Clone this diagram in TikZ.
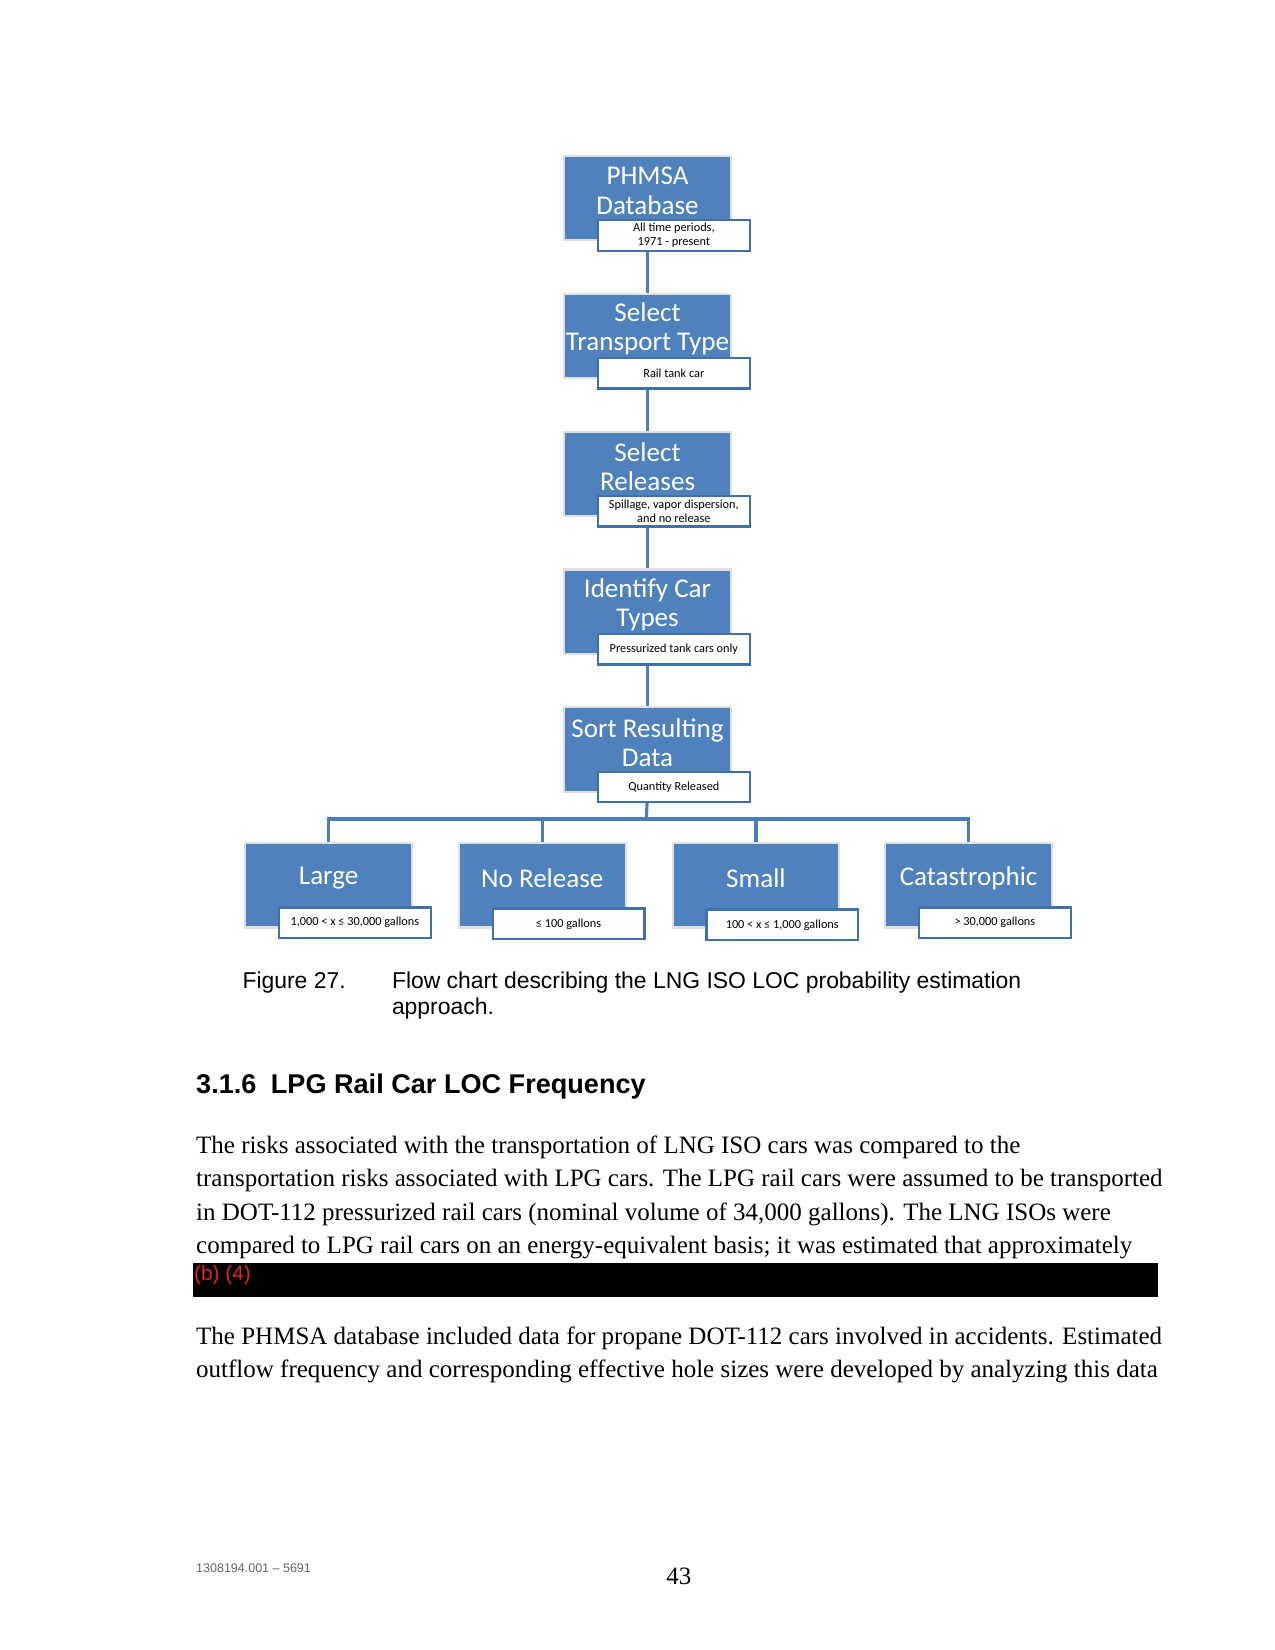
\documentclass[tikz,border=0pt]{standalone}
\usepackage{fontspec}
\setmainfont{Liberation Serif}
\newfontfamily\calibri{Carlito}
\newfontfamily\arial{Liberation Sans}
\usetikzlibrary{backgrounds}
\definecolor{boxblue}{RGB}{79,129,189}
\definecolor{lineblue}{RGB}{74,126,187}
\definecolor{lblborder}{RGB}{65,113,170}
\definecolor{redact}{RGB}{220,40,40}
\begin{document}
\begin{tikzpicture}[x=0.50526pt,y=-0.50526pt,
  bluebox/.style={rectangle, fill=boxblue, draw=black!12, line width=1pt,
    minimum width=80pt, minimum height=40.5pt, inner sep=0pt, anchor=north west},
  boxtext/.style={text=white, font=\calibri\fontsize{13}{14.2}\selectfont,
    align=center, inner sep=0pt},
  lblbox/.style={rectangle, fill=white, draw=lblborder, line width=1.1pt,
    minimum width=72.8pt, minimum height=14.7pt, inner sep=0pt, anchor=north west,
    font=\calibri\fontsize{5.9}{6.6}\selectfont, align=center},
  conn/.style={draw=lineblue, line width=1.5pt},
  body/.style={anchor=base west, inner sep=0pt, font=\fontsize{12}{15}\selectfont},
  capt/.style={anchor=base west, inner sep=0pt, font=\arial\fontsize{11}{13}\selectfont},
  headf/.style={anchor=base west, inner sep=0pt, font=\arial\bfseries\fontsize{13}{15}\selectfont},
]
\begin{pgfonlayer}{background}
\fill[white] (0,0) rectangle (1211.25,1567.5);
\end{pgfonlayer}
\useasboundingbox (0,0) rectangle (1211.25,1567.5);

% chain
\node[bluebox] (b1) at (535,147) {};
\node[boxtext] (t1) at ([yshift=3.3pt]b1.center) {PHMSA\\Database};
\node[lblbox] (l1) at (567,208) {All time periods,\\1971 - present};

\node[bluebox] (b2) at (535,278) {};
\node[boxtext] (t2) at ([yshift=3.3pt]b2.center) {Select\\Transport Type};
\node[lblbox] (l2) at (567,339) {Rail tank car};

\node[bluebox] (b3) at (535,409) {};
\node[boxtext] (t3) at ([yshift=3.3pt]b3.center) {Select\\Releases};
\node[lblbox] (l3) at (567,470) {Spillage, vapor dispersion,\\and no release};

\node[bluebox] (b4) at (535,540) {};
\node[boxtext] (t4) at ([yshift=3.3pt]b4.center) {Identify Car\\Types};
\node[lblbox] (l4) at (567,601) {Pressurized tank cars only};

\node[bluebox] (b5) at (535,671) {};
\node[boxtext] (t5) at ([yshift=3.3pt]b5.center) {Sort Resulting\\Data};
\node[lblbox] (l5) at (567,732) {Quantity Released};

% bottom row
\node[bluebox] (c1) at (232,800) {};
\node[boxtext] (u1) at ([yshift=3.3pt]c1.center) {Large};
\node[lblbox] (m1) at (264,861) {1,000 < x ≤ 30,000 gallons};

\node[bluebox] (c2) at (435,800) {};
\node[boxtext] (u2) at ([yshift=3.3pt]c2.center) {No Release};
\node[lblbox] (m2) at (467,862) {≤ 100 gallons};

\node[bluebox] (c3) at (638,800) {};
\node[boxtext] (u3) at ([yshift=3.3pt]c3.center) {Small};
\node[lblbox] (m3) at (670,863) {100 < x ≤ 1,000 gallons};

\node[bluebox] (c4) at (840,800) {};
\node[boxtext] (u4) at ([yshift=3.3pt]c4.center) {Catastrophic};
\node[lblbox] (m4) at (872,861) {> 30,000 gallons};

\coordinate (j) at (614,778);

\begin{pgfonlayer}{background}
\draw[conn] (b1.south) -- (b2.north);
\draw[conn] (b2.south) -- (b3.north);
\draw[conn] (b3.south) -- (b4.north);
\draw[conn] (b4.south) -- (b5.north);
\draw[conn] (b5.south) -- (j);
\draw[conn] (c1.north) |- (j);
\draw[conn] (c2.north) |- (j);
\draw[conn] (c3.north) |- (j);
\draw[conn] (c4.north) |- (j);
\end{pgfonlayer}

% caption
\node[capt] (fig) at (230,939) {Figure 27.};
\node[capt] (cap1) at (372,939) {Flow chart describing the LNG ISO LOC probability estimation};
\node[capt] (cap2) at (372,964) {approach.};

% heading
\node[headf] (hnum) at (186,1039) {3.1.6};
\node[headf] (htit) at (257,1039) {LPG Rail Car LOC Frequency};

% paragraph 1
\node[body] (p1) at (186,1096) {The risks associated with the transportation of LNG ISO cars was compared to the};
\node[body] (p2) at (186,1127) {transportation risks associated with LPG cars. The LPG rail cars were assumed to be transported};
\node[body] (p3) at (186,1159) {in DOT-112 pressurized rail cars (nominal volume of 34,000 gallons). The LNG ISOs were};
\node[body] (p4) at (186,1191) {compared to LPG rail cars on an energy-equivalent basis; it was estimated that approximately};

% redaction bar
\fill[black] (183,1200) rectangle (1100,1232);
\node[anchor=base west, inner sep=0pt, text=redact, font=\arial\fontsize{10}{12}\selectfont] (red) at (184,1216) {(b) (4)};

% paragraph 2
\node[body] (q1) at (186,1277) {The PHMSA database included data for propane DOT-112 cars involved in accidents. Estimated};
\node[body] (q2) at (186,1309) {outflow frequency and corresponding effective hole sizes were developed by analyzing this data};

% footer
\node[anchor=base west, inner sep=0pt, text=black!60, font=\arial\fontsize{6}{7}\selectfont] (foot) at (186,1494) {1308194.001 – 5691};
\node[anchor=base, inner sep=0pt, font=\fontsize{12}{14}\selectfont] (pg) at (645,1505) {43};
\end{tikzpicture}
\end{document}
